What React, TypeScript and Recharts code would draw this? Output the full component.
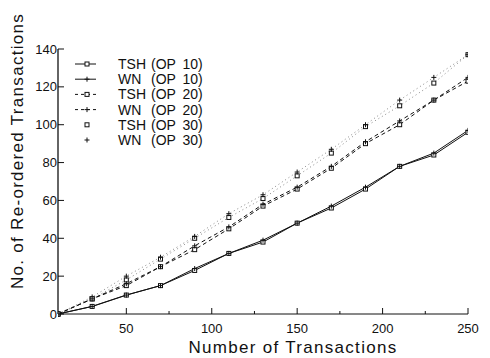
import React from 'react';
import { LineChart, Line, XAxis, YAxis, Legend } from 'recharts';

// transactions per run, re-ordered counts
const txCounts = [10, 30, 50, 70, 90, 110, 130, 150, 170, 190, 210, 230, 250];
const tshOp10 = [0, 4, 10, 15, 23, 32, 38, 48, 56, 66, 78, 84, 96];
const wnOp10 = [0, 4, 10, 15, 24, 32, 39, 48, 57, 67, 78, 85, 97];
const tshOp20 = [0, 8, 15, 25, 34, 45, 57, 66, 77, 90, 100, 113, 123];
const wnOp20 = [0, 8, 16, 25, 36, 46, 58, 67, 78, 91, 102, 113, 125];
const tshOp30 = [0, 8, 18, 29, 40, 51, 61, 73, 85, 99, 110, 122, 137];
const wnOp30 = [0, 9, 20, 30, 41, 53, 63, 75, 87, 100, 113, 125, 137];

const xTicks = [50, 75, 100, 125, 150, 175, 200, 225, 250];
const yTicks = [0, 10, 20, 30, 40, 50, 60, 70, 80, 90, 100, 110, 120, 130, 140];

const data = txCounts.map((x, i) => ({
  x,
  tsh10: tshOp10[i],
  wn10: wnOp10[i],
  tsh20: tshOp20[i],
  wn20: wnOp20[i],
  tsh30: tshOp30[i],
  wn30: wnOp30[i],
}));

const FONT = '"Liberation Sans", Arial, sans-serif';
const INK = '#111';

const Square = (props: any) => {
  const { cx, cy } = props;
  if (cx == null || cy == null) return null;
  return <rect x={cx - 2} y={cy - 2} width={4} height={4} fill="#fff" stroke={INK} strokeWidth={1} />;
};

const Plus = (props: any) => {
  const { cx, cy } = props;
  if (cx == null || cy == null) return null;
  return (
    <g stroke={INK} strokeWidth={1}>
      <line x1={cx - 2.5} y1={cy} x2={cx + 2.5} y2={cy} />
      <line x1={cx} y1={cy - 2.5} x2={cx} y2={cy + 2.5} />
    </g>
  );
};

const XTick = (props: any) => {
  const { x, y, payload } = props;
  const major = payload.value % 50 === 0;
  return (
    <g>
      <line x1={x} y1={y} x2={x} y2={y - (major ? 6 : 3)} stroke={INK} />
      {major && (
        <text x={x} y={y + 19} textAnchor="middle" fontSize={13} fontFamily={FONT} fill={INK}>
          {payload.value}
        </text>
      )}
    </g>
  );
};

const YTick = (props: any) => {
  const { x, y, payload } = props;
  const major = payload.value % 20 === 0;
  return (
    <g>
      <line x1={x} y1={y} x2={x + (major ? 6 : 3)} y2={y} stroke={INK} />
      {major && (
        <text x={x - 1} y={y} dy="0.35em" textAnchor="end" fontSize={13} fontFamily={FONT} fill={INK}>
          {payload.value}
        </text>
      )}
    </g>
  );
};

const legendRows = [
  { name: 'TSH', op: '10', dash: undefined, mark: 'sq', line: true },
  { name: 'WN', op: '10', dash: undefined, mark: 'plus', line: true },
  { name: 'TSH', op: '20', dash: '3 3', mark: 'sq', line: true },
  { name: 'WN', op: '20', dash: '3 3', mark: 'plus', line: true },
  { name: 'TSH', op: '30', dash: undefined, mark: 'sq', line: false },
  { name: 'WN', op: '30', dash: undefined, mark: 'plus', line: false },
];

const LegendBox = () => (
  <svg width={150} height={96}>
    {legendRows.map((r, i) => {
      const cy = 8 + i * 15.2;
      return (
        <g key={i}>
          {r.line && <line x1={0} y1={cy} x2={21} y2={cy} stroke={INK} strokeDasharray={r.dash} />}
          {r.mark === 'sq' ? <Square cx={12} cy={cy} /> : <Plus cx={12} cy={cy} />}
          <text x={43} y={cy} dy="0.36em" fontSize={14} fontFamily={FONT} fill={INK}>
            {r.name}
          </text>
          <text x={76} y={cy} dy="0.36em" fontSize={14} fontFamily={FONT} fill={INK} wordSpacing={3}>
            {`(OP ${r.op})`}
          </text>
        </g>
      );
    })}
  </svg>
);

export default function App() {
  return (
    <LineChart
      width={482}
      height={350}
      data={data}
      margin={{ top: 41, right: 22, bottom: 0, left: 0 }}
      style={{ fontFamily: FONT }}
    >
      <XAxis
        dataKey="x"
        type="number"
        domain={[10, 250]}
        ticks={xTicks}
        allowDataOverflow
        height={44}
        stroke={INK}
        tickLine={false}
        tickSize={0}
        tickMargin={0}
        tick={<XTick />}
        label={{
          content: () => (
            <text x={285} y={345} textAnchor="middle" fontSize={17} fontFamily={FONT} fill={INK} letterSpacing={1.3}>
              Number of Transactions
            </text>
          ),
        }}
      />
      <YAxis
        type="number"
        domain={[0, 140]}
        ticks={yTicks}
        width={50}
        stroke={INK}
        strokeWidth={1.3}
        tickLine={false}
        tickSize={0}
        tickMargin={0}
        tick={<YTick />}
        label={{
          content: () => (
            <text
              x={9}
              y={143}
              transform="rotate(-90, 9, 143)"
              textAnchor="middle"
              dominantBaseline="central"
              fontSize={17}
              fontFamily={FONT}
              fill={INK}
              letterSpacing={1.3}
            >
              No. of Re-ordered Transactions
            </text>
          ),
        }}
      />
      <Legend
        layout="vertical"
        align="center"
        verticalAlign="middle"
        wrapperStyle={{ left: 67, top: 48, width: 150 }}
        content={() => <LegendBox />}
      />
      <Line dataKey="tsh30" stroke="#888" strokeWidth={1} strokeDasharray="1 3" dot={<Square />} isAnimationActive={false} />
      <Line dataKey="wn30" stroke="#888" strokeWidth={1} strokeDasharray="1 3" dot={<Plus />} isAnimationActive={false} />
      <Line dataKey="tsh20" stroke={INK} strokeWidth={1} strokeDasharray="4 3" dot={<Square />} isAnimationActive={false} />
      <Line dataKey="wn20" stroke={INK} strokeWidth={1} strokeDasharray="4 3" dot={<Plus />} isAnimationActive={false} />
      <Line dataKey="tsh10" stroke={INK} strokeWidth={1} dot={<Square />} isAnimationActive={false} />
      <Line dataKey="wn10" stroke={INK} strokeWidth={1} dot={<Plus />} isAnimationActive={false} />
    </LineChart>
  );
}
